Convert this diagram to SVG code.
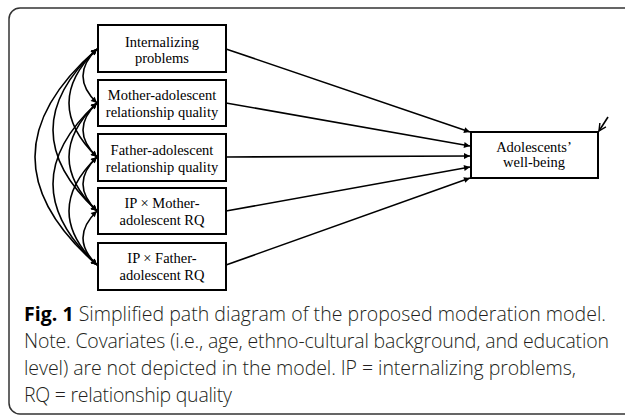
<svg xmlns="http://www.w3.org/2000/svg" width="625" height="415" viewBox="0 0 625 415">
<style>
.box{fill:#fff;stroke:#000;stroke-width:2}
.lbl{font-family:"Liberation Serif","Times New Roman",serif;font-size:14.5px;fill:#000;text-anchor:middle}
.arr{fill:none;stroke:#000;stroke-width:1.6;marker-end:url(#ah)}
.cov{fill:none;stroke:#000;stroke-width:1.6;marker-start:url(#ah);marker-end:url(#ah)}
.cap{font-family:"Open Sans","Liberation Sans",sans-serif;font-size:19.5px;font-weight:300;fill:#231f20}
</style>
<defs>
<marker id="ah" viewBox="0 0 10 10" refX="10" refY="5" markerUnits="userSpaceOnUse" markerWidth="9" markerHeight="6" orient="auto-start-reverse">
<path d="M0,0 L10,5 L0,10 z" fill="#000"/>
</marker>
<marker id="oh" viewBox="0 0 10 10" refX="9" refY="5" markerUnits="userSpaceOnUse" markerWidth="9" markerHeight="9" orient="auto">
<path d="M1,1 L9,5 L1,9" fill="none" stroke="#000" stroke-width="1.6"/>
</marker>
</defs>
<rect x="9" y="8" width="640" height="406" rx="11" ry="11" fill="#fff" stroke="#333" stroke-width="1.5"/>
<g id="connectors">
<path class="arr" d="M226,49 L470,132"/>
<path class="arr" d="M226,103 L470,146"/>
<path class="arr" d="M226,157 L470,156"/>
<path class="arr" d="M226,211 L470,167"/>
<path class="arr" d="M226,265 L470,178"/>
<path d="M608,117 L599,131" fill="none" stroke="#000" stroke-width="1.6" marker-end="url(#oh)"/>
<path class="cov" d="M97,49 Q69,76 97,103"/>
<path class="cov" d="M97,103 Q69,130 97,157"/>
<path class="cov" d="M97,157 Q69,184 97,211"/>
<path class="cov" d="M97,211 Q69,238 97,265"/>
<path class="cov" d="M97,49 Q41,103 97,157"/>
<path class="cov" d="M97,103 Q41,157 97,211"/>
<path class="cov" d="M97,157 Q41,211 97,265"/>
<path class="cov" d="M97,49 Q9,130 97,211"/>
<path class="cov" d="M97,103 Q9,184 97,265"/>
<path class="cov" d="M97,49 Q-27,157 97,265"/>
</g>
<g id="n-internalizing">
<rect class="box" x="98" y="25" width="128" height="47"/>
<text class="lbl" x="162" y="47">Internalizing</text>
<text class="lbl" x="162" y="63">problems</text>
</g>
<g id="n-mother">
<rect class="box" x="98" y="80" width="128" height="46"/>
<text class="lbl" x="162" y="100">Mother-adolescent</text>
<text class="lbl" x="162" y="117">relationship quality</text>
</g>
<g id="n-father">
<rect class="box" x="98" y="134" width="128" height="47"/>
<text class="lbl" x="162" y="155">Father-adolescent</text>
<text class="lbl" x="162" y="172">relationship quality</text>
</g>
<g id="n-ipmother">
<rect class="box" x="98" y="188" width="128" height="46"/>
<text class="lbl" x="162" y="208">IP × Mother-</text>
<text class="lbl" x="162" y="225">adolescent RQ</text>
</g>
<g id="n-ipfather">
<rect class="box" x="98" y="243" width="128" height="47"/>
<text class="lbl" x="162" y="263">IP × Father-</text>
<text class="lbl" x="162" y="280">adolescent RQ</text>
</g>
<g id="n-wellbeing">
<rect class="box" x="471" y="132" width="127" height="46"/>
<text class="lbl" x="534" y="152">Adolescents’</text>
<text class="lbl" x="534" y="167">well-being</text>
</g>
<g id="caption">
<text class="cap" x="24" y="321" textLength="582"><tspan font-weight="bold" fill="#000">Fig. 1</tspan> Simplified path diagram of the proposed moderation model.</text>
<text class="cap" x="24" y="348" textLength="585">Note. Covariates (i.e., age, ethno-cultural background, and education</text>
<text class="cap" x="24" y="375" textLength="552">level) are not depicted in the model. IP = internalizing problems,</text>
<text class="cap" x="24" y="402" textLength="208">RQ = relationship quality</text>
</g>
</svg>
